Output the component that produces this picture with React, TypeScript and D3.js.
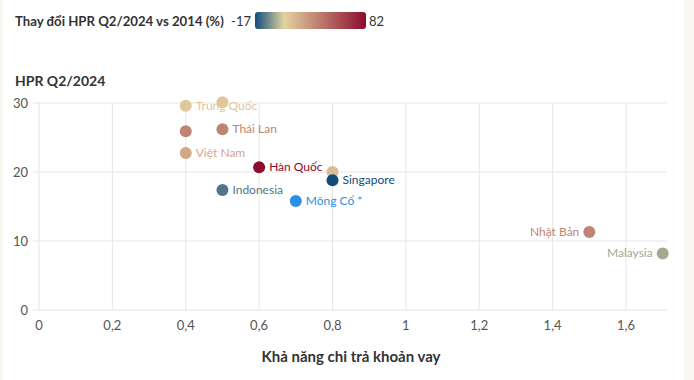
import React from "react";
import * as d3 from "d3";

const countries = ["Trung Quốc", "", "Thái Lan", "", "Việt Nam", "Hàn Quốc", "", "Singapore", "Indonesia", "Mông Cổ *", "Nhật Bản", "Malaysia"];
const affordability = [0.4, 0.5, 0.5, 0.4, 0.4, 0.6, 0.8, 0.8, 0.5, 0.7, 1.5, 1.7];
const hpr = [29.6, 30.1, 26.2, 25.9, 22.75, 20.7, 20.0, 18.8, 17.4, 15.8, 11.3, 8.2];
const change: (number | null)[] = [13, 13, 38, 38, 25, 82, 17, -17, -9, null, 38, 1];
const labelSide = ["r", "r", "r", "r", "r", "r", "r", "r", "r", "r", "l", "l"];
const xTicks = [0, 0.2, 0.4, 0.6, 0.8, 1, 1.2, 1.4, 1.6];
const yTicks = [0, 10, 20, 30];
const colorStops = [-17, 9, 82];
const colorRange = ["#0f4c7c", "#e3d3a0", "#8c0c2c"];

const FONT = "Lato, 'Open Sans', sans-serif";

export default function App() {
  const x = d3.scaleLinear().domain([0, 1.7]).range([39, 662.7]);
  const y = d3.scaleLinear().domain([0, 30]).range([310, 103]);
  const color = d3.scaleLinear<string>().domain(colorStops).range(colorRange).interpolate(d3.interpolateRgb);
  const fmt = (v: number) => String(v).replace(".", ",");
  const gradX = d3.scaleLinear().domain([-17, 82]).range([0, 100]);
  const colOf = (i: number) => {
    const v = change[i];
    return v === null ? "#2a8fe6" : color(v);
  };

  return (
    <div style={{ position: "absolute", left: 0, top: 0 }}>
      <svg width={694} height={380} style={{ display: "block", fontFamily: FONT }}>
        <defs>
          <linearGradient id="lg" x1="0" x2="1" y1="0" y2="0">
            {colorStops.map((s, i) => (
              <stop key={i} offset={`${gradX(s)}%`} stopColor={colorRange[i]} />
            ))}
          </linearGradient>
        </defs>
        <rect x={0} y={0} width={694} height={380} fill="#ffffff" />
        <rect x={0} y={0} width={3} height={380} fill="#f9f7f1" />
        <rect x={684} y={0} width={10} height={380} fill="#f9f7f1" />

        <text x={15} y={26} fontSize={13.2} fontWeight={700} fill="#333">Thay đổi HPR Q2/2024 vs 2014 (%)</text>
        <text x={251} y={26} fontSize={13} fill="#333" textAnchor="end">-17</text>
        <rect x={255} y={12} width={111} height={17} rx={3} fill="url(#lg)" />
        <text x={369} y={26} fontSize={13} fill="#333">82</text>

        <text x={15} y={86} fontSize={14} fontWeight={700} fill="#333">HPR Q2/2024</text>

        {yTicks.map((t) => (
          <g key={"y" + t}>
            <line x1={33} x2={667} y1={y(t)} y2={y(t)} stroke="#e6e6e6" strokeWidth={1} />
            <text x={28} y={y(t) + 4.5} fontSize={13} fill="#555" textAnchor="end">{t}</text>
          </g>
        ))}
        {xTicks.map((t) => (
          <g key={"x" + t}>
            <line x1={x(t)} x2={x(t)} y1={y(30)} y2={y(0)} stroke="#e6e6e6" strokeWidth={1} />
            <text x={x(t)} y={330} fontSize={13} fill="#555" textAnchor="middle">{fmt(t)}</text>
          </g>
        ))}
        <text x={351} y={362} fontSize={15} fontWeight={700} fill="#333" textAnchor="middle">Khả năng chi trả khoản vay</text>

        {countries.map((c, i) => (
          <circle key={"c" + i} cx={x(affordability[i])} cy={y(hpr[i])} r={6} fill={colOf(i)} />
        ))}
        {countries.map((c, i) => {
          if (!c) return null;
          const cx = x(affordability[i]);
          const cy = y(hpr[i]);
          return (
            <text
              key={"t" + i}
              x={labelSide[i] === "r" ? cx + 10 : cx - 10}
              y={cy + 4}
              fontSize={12}
              fill={colOf(i)}
              textAnchor={labelSide[i] === "r" ? "start" : "end"}
            >
              {c}
            </text>
          );
        })}
      </svg>
    </div>
  );
}
